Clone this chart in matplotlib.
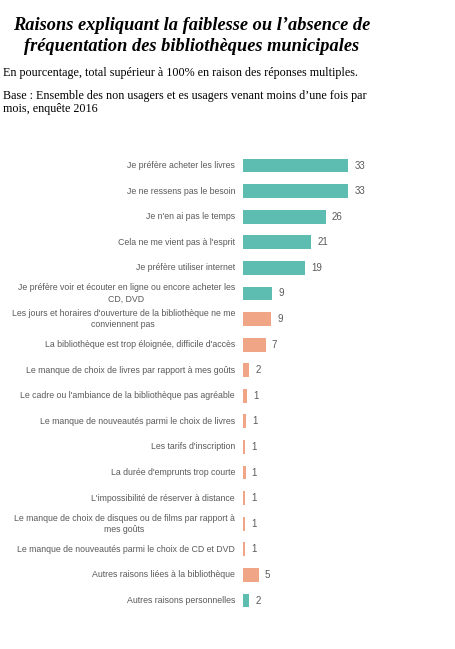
import matplotlib
matplotlib.use("Agg")
import matplotlib.pyplot as plt

# Data
labels = [
    "Je préfère acheter les livres",
    "Je ne ressens pas le besoin",
    "Je n'en ai pas le temps",
    "Cela ne me vient pas à l'esprit",
    "Je préfère utiliser internet",
    "Je préfère voir et écouter en ligne ou encore acheter les\nCD, DVD",
    "Les jours et horaires d'ouverture de la bibliothèque ne me\nconviennent pas",
    "La bibliothèque est trop éloignée, difficile d'accès",
    "Le manque de choix de livres par rapport à mes goûts",
    "Le cadre ou l'ambiance de la bibliothèque pas agréable",
    "Le manque de nouveautés parmi le choix de livres",
    "Les tarifs d'inscription",
    "La durée d'emprunts trop courte",
    "L'impossibilité de réserver à distance",
    "Le manque de choix de disques ou de films par rapport à\nmes goûts",
    "Le manque de nouveautés parmi le choix de CD et DVD",
    "Autres raisons liées à la bibliothèque",
    "Autres raisons personnelles",
]
values = [33, 33, 26, 21.4, 19.4, 9.1, 8.8, 7, 1.9, 1.3, 0.9, 0.6, 0.7, 0.5, 0.5, 0.5, 4.8, 1.8]
shown = [33, 33, 26, 21, 19, 9, 9, 7, 2, 1, 1, 1, 1, 1, 1, 1, 5, 2]
kind = ["perso"] * 6 + ["biblio"] * 10 + ["biblio", "perso"]

colors = {"perso": "#5dbdb1", "biblio": "#f0a586"}

fig = plt.figure(figsize=(4.56, 6.49), dpi=100)

# title and notes
fig.text(0.421, 0.944, "Raisons expliquant la faiblesse ou l’absence de\nfréquentation des bibliothèques municipales",
         ha="center", va="center", family="Liberation Serif", fontsize=13.2,
         fontweight="bold", style="italic", linespacing=1.3)
fig.text(0.006, 0.887, "En pourcentage, total supérieur à 100% en raison des réponses multiples.",
         ha="left", va="center", family="Liberation Serif", fontsize=8.7)
fig.text(0.006, 0.842, "Base : Ensemble des non usagers et es usagers venant moins d’une fois par\nmois, enquête 2016",
         ha="left", va="center", family="Liberation Serif", fontsize=8.7, linespacing=1.05)

ax = fig.add_axes([0.5336, 0.055, 0.279, 0.7097])
ypos = list(range(len(labels)))
ax.barh(ypos, values, height=0.54, color=[colors[k] for k in kind], edgecolor="none")
ax.set_xlim(0, 40)
ax.set_ylim(len(labels) - 0.5, -0.5)

for y, v, s in zip(ypos, values, shown):
    ax.text(v + 1.9, y, str(s), ha="left", va="center", fontsize=7,
            color="#5a5a5a", family="Liberation Sans")
    ax.text(-2.6, y, labels[y], ha="right", va="center", fontsize=6.3,
            color="#5a5a5a", family="Liberation Sans", multialignment="center",
            linespacing=1.3)

ax.axis("off")

fig.savefig("out.png", dpi=100)
